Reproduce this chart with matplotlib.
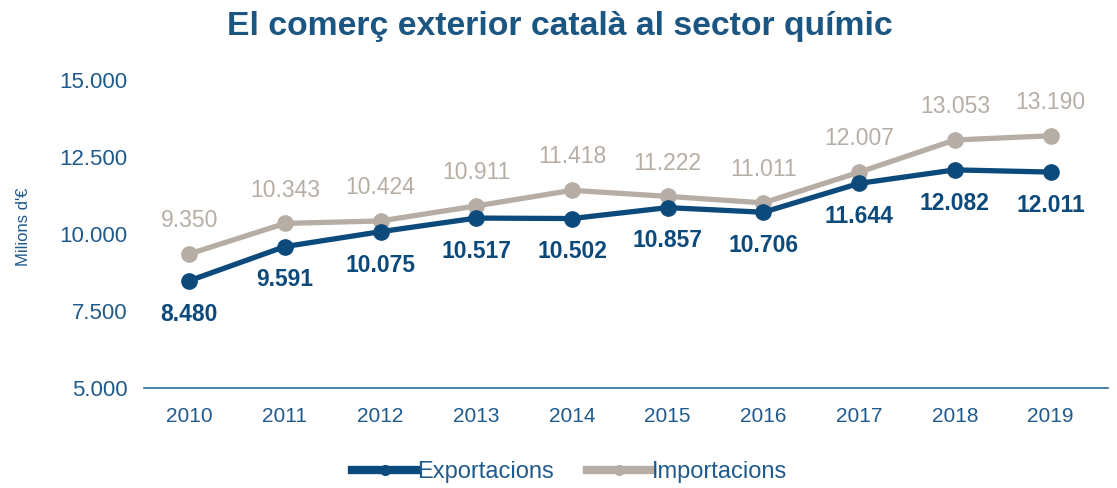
import matplotlib.pyplot as plt
import numpy as np

anys = ['2010', '2011', '2012', '2013', '2014', '2015', '2016', '2017', '2018', '2019']
exportacions = [8480, 9591, 10075, 10517, 10502, 10857, 10706, 11644, 12082, 12011]
importacions = [9350, 10343, 10424, 10911, 11418, 11222, 11011, 12007, 13053, 13190]
y_ticks = [5000, 7500, 10000, 12500, 15000]

blau = '#0D4A7C'
gris = '#B6AEA5'
blau_text = '#1F5A8C'

plt.rcParams['font.family'] = ['Liberation Sans', 'DejaVu Sans']

def fmt(v):
    return f'{v:,}'.replace(',', '.')

fig = plt.figure(figsize=(11.17, 4.88), dpi=100)
ax = fig.add_axes([0.129, 0.205, 0.863, 0.631])

x = np.arange(len(anys))
ax.plot(x, importacions, color=gris, lw=3.8, marker='o', ms=11, label='Importacions', zorder=2)
ax.plot(x, exportacions, color=blau, lw=3.8, marker='o', ms=11, label='Exportacions', zorder=3)

# etiquetes de dades
for xi, v in zip(x, importacions):
    ax.annotate(fmt(v), (xi, v), xytext=(0, 24), textcoords='offset points',
                ha='center', va='center', fontsize=16.5, color=gris)
for xi, v in zip(x, exportacions):
    ax.annotate(fmt(v), (xi, v), xytext=(0, -24), textcoords='offset points',
                ha='center', va='center', fontsize=16.5, color=blau, fontweight='bold')

ax.set_xlim(-0.47, 9.6)
ax.set_ylim(5000, 15000)
ax.set_xticks(x)
ax.set_xticklabels(anys)
ax.set_yticks(y_ticks)
ax.set_yticklabels([fmt(t) for t in y_ticks])
ax.tick_params(axis='both', length=0, colors=blau_text)
ax.tick_params(axis='x', labelsize=15, pad=14)
ax.tick_params(axis='y', labelsize=16, pad=12)

for s in ['top', 'right', 'left']:
    ax.spines[s].set_visible(False)
ax.spines['bottom'].set_color('#2A6A9A')
ax.spines['bottom'].set_linewidth(1.2)

fig.text(0.021, 0.535, "Milions d'€", rotation=90, ha='center', va='center',
         fontsize=12, color=blau_text)

fig.suptitle('El comerç exterior català al sector químic', x=0.501, y=0.978,
             fontsize=24.3, fontweight='bold', color='#1B5582')

h, l = ax.get_legend_handles_labels()
leg = fig.legend(h[::-1], l[::-1], loc='center', bbox_to_anchor=(0.51, 0.033), ncol=2,
                 frameon=False, fontsize=17, handlelength=2.75, handletextpad=0.0,
                 columnspacing=1.4)
for t in leg.get_texts():
    t.set_color(blau_text)
for ln in leg.get_lines():
    ln.set_linewidth(6)
    ln.set_markersize(7)

plt.savefig('out.png', dpi=100)
